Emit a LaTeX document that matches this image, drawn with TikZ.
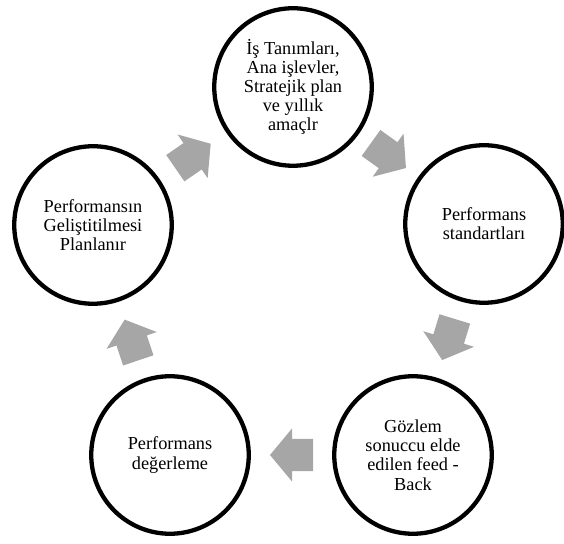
\documentclass[tikz,border=0pt]{standalone}
\usepackage{fontspec}
\setmainfont{Liberation Serif}
\usetikzlibrary{calc}
\definecolor{arrowgray}{RGB}{166,166,166}
\tikzset{
  stage/.style={circle, draw=black, line width=4.3pt, minimum size=157.5pt,
    inner sep=0pt, align=center, font=\fontsize{18.3}{19.2}\selectfont},
  % wide block arrow pointing along +x, centred on the origin
  blockarrow/.pic={
    \fill[arrowgray] (-21.5,-16) -- (-0.5,-16) -- (-0.5,-26.5) -- (21.5,0)
      -- (-0.5,26.5) -- (-0.5,16) -- (-21.5,16) -- cycle;
  }
}
\begin{document}
\begin{tikzpicture}[x=1pt,y=1pt]
\useasboundingbox (0,0) rectangle (564,543);

% the five stages of the cycle
\node[stage] (T)  at (293,456) {İş Tanımları,\\Ana işlevler,\\Stratejik plan\\ve yıllık\\amaçlr};
\node[stage] (R)  at (484,319) {Performans\\standartları};
\node[stage] (BR) at (413,88)  {Gözlem\\sonuccu elde\\edilen feed -\\Back};
\node[stage] (BL) at (170,88)  {Performans\\değerleme};
\node[stage] (L)  at (93,318)  {Performansın\\Geliştitilmesi\\Planlanır};

% block arrows halfway between consecutive stages
\foreach \a/\b in {T/R,R/BR,BR/BL,BL/L,L/T}
  \path let \p1=($(\b)-(\a)$), \n1={atan2(\y1,\x1)} in
    ($(\a)!0.5!(\b)$) pic[rotate=\n1] {blockarrow};
\end{tikzpicture}
\end{document}
